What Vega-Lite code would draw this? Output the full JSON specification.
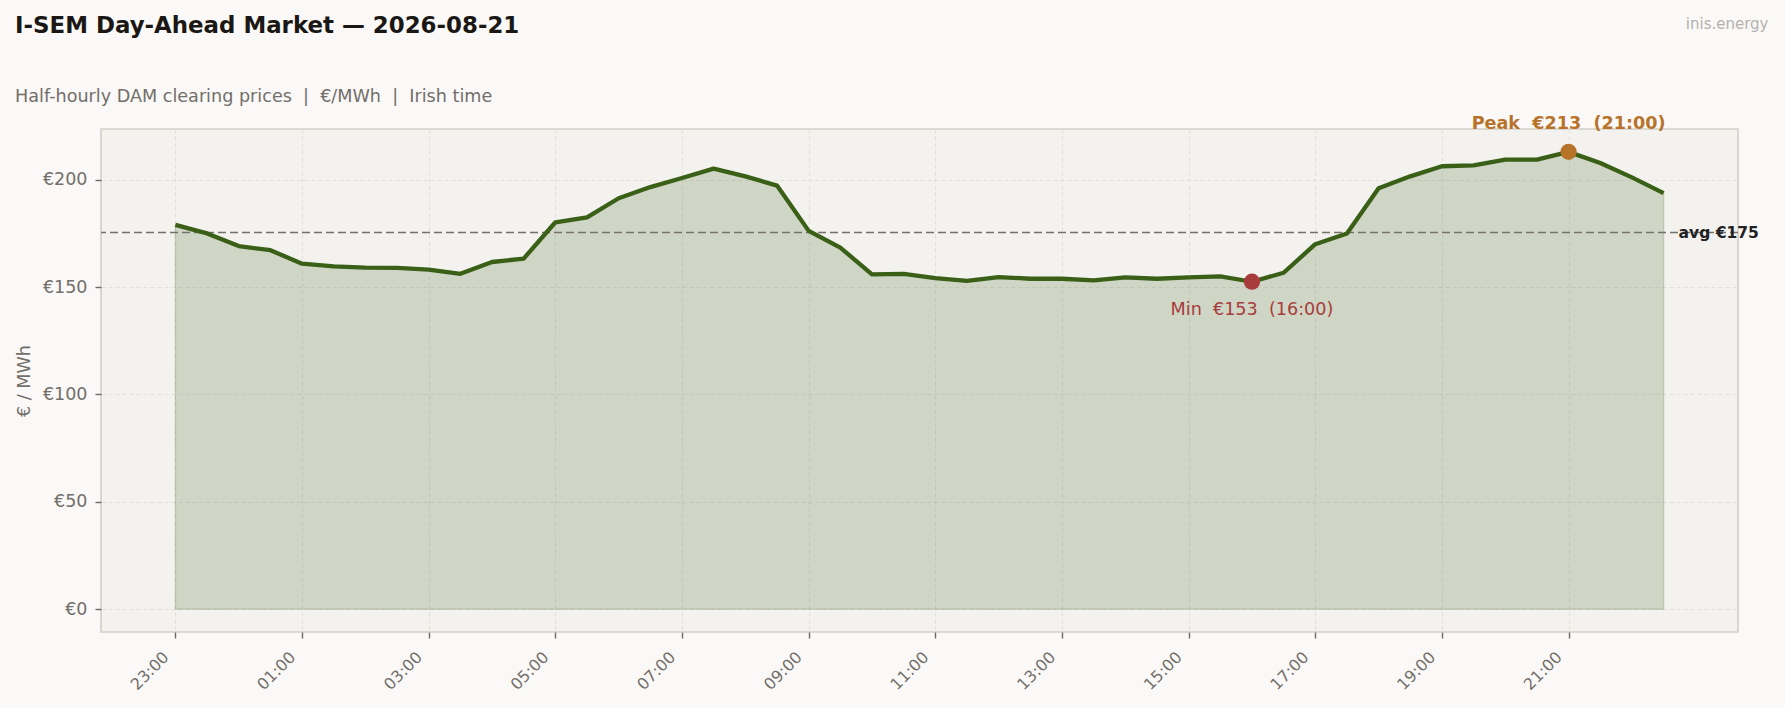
{
  "$schema": "https://vega.github.io/schema/vega-lite/v6.json",
  "width": 1637,
  "height": 503,
  "autosize": "none",
  "padding": {"left": 101, "top": 129, "right": 47, "bottom": 76},
  "background": "#faf9f7",
  "title": {
    "text": "I-SEM Day-Ahead Market — 2026-08-21",
    "subtitle": "Half-hourly DAM clearing prices \u00a0|\u00a0 €/MWh \u00a0|\u00a0 Irish time",
    "anchor": "start",
    "frame": "group",
    "dx": -86,
    "offset": -90,
    "font": "DejaVu Sans",
    "fontSize": 22.9,
    "fontWeight": "bold",
    "color": "#1a1714",
    "subtitleFont": "DejaVu Sans",
    "subtitleFontSize": 17.6,
    "subtitleColor": "#736e69",
    "subtitlePadding": 51
  },
  "data": {
    "values": [
      {"time": "2026-08-20T23:00:00Z", "price": 179.0},
      {"time": "2026-08-20T23:30:00Z", "price": 175.0},
      {"time": "2026-08-21T00:00:00Z", "price": 169.1},
      {"time": "2026-08-21T00:30:00Z", "price": 167.2},
      {"time": "2026-08-21T01:00:00Z", "price": 160.9},
      {"time": "2026-08-21T01:30:00Z", "price": 159.7},
      {"time": "2026-08-21T02:00:00Z", "price": 159.1},
      {"time": "2026-08-21T02:30:00Z", "price": 159.0},
      {"time": "2026-08-21T03:00:00Z", "price": 158.1},
      {"time": "2026-08-21T03:30:00Z", "price": 156.2},
      {"time": "2026-08-21T04:00:00Z", "price": 161.7},
      {"time": "2026-08-21T04:30:00Z", "price": 163.3},
      {"time": "2026-08-21T05:00:00Z", "price": 180.2},
      {"time": "2026-08-21T05:30:00Z", "price": 182.5},
      {"time": "2026-08-21T06:00:00Z", "price": 191.4},
      {"time": "2026-08-21T06:30:00Z", "price": 196.6},
      {"time": "2026-08-21T07:00:00Z", "price": 200.8},
      {"time": "2026-08-21T07:30:00Z", "price": 205.2},
      {"time": "2026-08-21T08:00:00Z", "price": 201.6},
      {"time": "2026-08-21T08:30:00Z", "price": 197.3},
      {"time": "2026-08-21T09:00:00Z", "price": 176.2},
      {"time": "2026-08-21T09:30:00Z", "price": 168.4},
      {"time": "2026-08-21T10:00:00Z", "price": 155.9},
      {"time": "2026-08-21T10:30:00Z", "price": 156.2},
      {"time": "2026-08-21T11:00:00Z", "price": 154.2},
      {"time": "2026-08-21T11:30:00Z", "price": 152.9},
      {"time": "2026-08-21T12:00:00Z", "price": 154.7},
      {"time": "2026-08-21T12:30:00Z", "price": 153.9},
      {"time": "2026-08-21T13:00:00Z", "price": 153.9},
      {"time": "2026-08-21T13:30:00Z", "price": 153.1},
      {"time": "2026-08-21T14:00:00Z", "price": 154.5},
      {"time": "2026-08-21T14:30:00Z", "price": 153.9},
      {"time": "2026-08-21T15:00:00Z", "price": 154.5},
      {"time": "2026-08-21T15:30:00Z", "price": 155.0},
      {"time": "2026-08-21T16:00:00Z", "price": 152.5},
      {"time": "2026-08-21T16:30:00Z", "price": 156.7},
      {"time": "2026-08-21T17:00:00Z", "price": 170.0},
      {"time": "2026-08-21T17:30:00Z", "price": 175.0},
      {"time": "2026-08-21T18:00:00Z", "price": 196.1},
      {"time": "2026-08-21T18:30:00Z", "price": 201.6},
      {"time": "2026-08-21T19:00:00Z", "price": 206.3},
      {"time": "2026-08-21T19:30:00Z", "price": 206.7},
      {"time": "2026-08-21T20:00:00Z", "price": 209.4},
      {"time": "2026-08-21T20:30:00Z", "price": 209.4},
      {"time": "2026-08-21T21:00:00Z", "price": 213.0},
      {"time": "2026-08-21T21:30:00Z", "price": 207.8},
      {"time": "2026-08-21T22:00:00Z", "price": 201.1},
      {"time": "2026-08-21T22:30:00Z", "price": 193.8}
    ]
  },
  "encoding": {
    "x": {
      "field": "time",
      "type": "temporal",
      "scale": {
        "type": "utc",
        "domain": [
          {"year": 2026, "month": 8, "date": 20, "hours": 21, "minutes": 49, "seconds": 30, "utc": true},
          {"year": 2026, "month": 8, "date": 21, "hours": 23, "minutes": 40, "seconds": 30, "utc": true}
        ]
      },
      "axis": {
        "values": [
          {"year": 2026, "month": 8, "date": 20, "hours": 23, "utc": true},
          {"year": 2026, "month": 8, "date": 21, "hours": 1, "utc": true},
          {"year": 2026, "month": 8, "date": 21, "hours": 3, "utc": true},
          {"year": 2026, "month": 8, "date": 21, "hours": 5, "utc": true},
          {"year": 2026, "month": 8, "date": 21, "hours": 7, "utc": true},
          {"year": 2026, "month": 8, "date": 21, "hours": 9, "utc": true},
          {"year": 2026, "month": 8, "date": 21, "hours": 11, "utc": true},
          {"year": 2026, "month": 8, "date": 21, "hours": 13, "utc": true},
          {"year": 2026, "month": 8, "date": 21, "hours": 15, "utc": true},
          {"year": 2026, "month": 8, "date": 21, "hours": 17, "utc": true},
          {"year": 2026, "month": 8, "date": 21, "hours": 19, "utc": true},
          {"year": 2026, "month": 8, "date": 21, "hours": 21, "utc": true}
        ],
        "labelExpr": "utcFormat(datum.value, '%H:%M')",
        "labelAngle": -45,
        "labelAlign": "right",
        "labelBaseline": "bottom",
        "labelPadding": 22,
        "labelOffset": -4,
        "labelFontSize": 16,
        "title": "inis.energy",
        "titleX": 1667,
        "titleY": -604,
        "titleAlign": "right",
        "titleBaseline": "alphabetic",
        "titleAngle": 0,
        "titleColor": "#b5b2ae",
        "titleFontSize": 15,
        "titleFontWeight": "normal"
      }
    },
    "y": {
      "field": "price",
      "type": "quantitative",
      "scale": {"domain": [-10.65, 223.65], "nice": false, "zero": false},
      "axis": {
        "values": [0, 50, 100, 150, 200],
        "labelExpr": "'€' + format(datum.value, 'd')",
        "labelFontSize": 17.5,
        "labelPadding": 8,
        "title": "€ / MWh",
        "titlePadding": 9,
        "titleFontSize": 17.6,
        "titleFontWeight": "normal",
        "titleColor": "#736e69"
      }
    }
  },
  "layer": [
    {
      "mark": {"type": "area", "color": "#3a5f17", "fillOpacity": 0.19, "stroke": "#3a5f17", "strokeOpacity": 0.18, "strokeWidth": 1.5},
      "encoding": {"y2": {"datum": 0}}
    },
    {
      "transform": [{"aggregate": [{"op": "mean", "field": "price", "as": "avg"}]}],
      "mark": {"type": "rule", "color": "#75716c", "strokeWidth": 1.6, "strokeDash": [8, 4]},
      "encoding": {"x": null, "y": {"field": "avg", "type": "quantitative"}}
    },
    {
      "transform": [
        {"aggregate": [{"op": "mean", "field": "price", "as": "avg"}, {"op": "max", "field": "time", "as": "last"}]},
        {"calculate": "'avg €' + format(datum.avg, '.0f')", "as": "label"}
      ],
      "mark": {"type": "text", "align": "left", "baseline": "middle", "dx": 15, "fontSize": 15.5, "fontWeight": "bold", "color": "#222222"},
      "encoding": {
        "x": {"field": "last", "type": "temporal"},
        "y": {"field": "avg", "type": "quantitative"},
        "text": {"field": "label"}
      }
    },
    {
      "mark": {"type": "line", "color": "#3a5f17", "strokeWidth": 4.3, "strokeJoin": "round"}
    },
    {
      "transform": [
        {"joinaggregate": [{"op": "min", "field": "price", "as": "pmin"}]},
        {"filter": "datum.price === datum.pmin"},
        {"calculate": "'Min\u00a0 €' + format(datum.price, '.0f') + '\u00a0 (' + utcFormat(datum.time, '%H:%M') + ')'", "as": "label"}
      ],
      "layer": [
        {"mark": {"type": "circle", "size": 264, "opacity": 1, "color": "#a83c3c"}},
        {
          "mark": {"type": "text", "align": "center", "baseline": "alphabetic", "dy": 33, "fontSize": 17.6, "color": "#a83c3c"},
          "encoding": {"text": {"field": "label"}}
        }
      ]
    },
    {
      "transform": [
        {"joinaggregate": [{"op": "max", "field": "price", "as": "pmax"}]},
        {"filter": "datum.price === datum.pmax"},
        {"calculate": "'Peak\u00a0 €' + format(datum.price, '.0f') + '\u00a0 (' + utcFormat(datum.time, '%H:%M') + ')'", "as": "label"}
      ],
      "layer": [
        {"mark": {"type": "circle", "size": 264, "opacity": 1, "color": "#b8732b"}},
        {
          "mark": {"type": "text", "align": "center", "baseline": "alphabetic", "dy": -23, "fontSize": 17.6, "fontWeight": "bold", "color": "#b8732b"},
          "encoding": {"text": {"field": "label"}}
        }
      ]
    }
  ],
  "config": {
    "font": "DejaVu Sans",
    "view": {"fill": "#f3f2ef", "stroke": "#d3cfc9", "strokeWidth": 1.6},
    "axis": {
      "domain": false,
      "grid": true,
      "gridColor": "#e2dfda",
      "gridDash": [4, 3],
      "gridWidth": 1,
      "tickColor": "#6e6a65",
      "tickSize": 6,
      "tickWidth": 1.4,
      "labelFont": "DejaVu Sans",
      "labelColor": "#736e69",
      "titleFont": "DejaVu Sans"
    }
  }
}
